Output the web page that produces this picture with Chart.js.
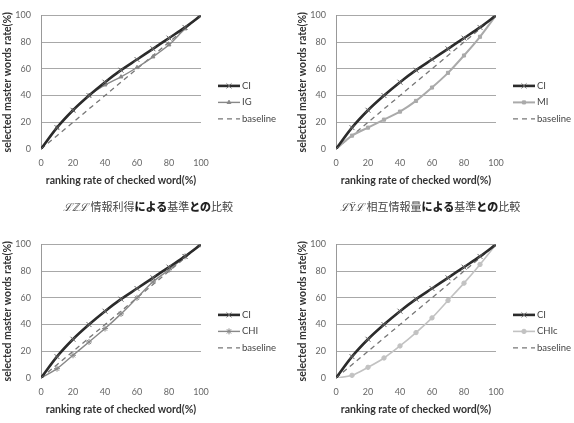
<!DOCTYPE html>
<html>
<head>
<meta charset="utf-8">
<script src="https://cdn.jsdelivr.net/npm/chart.js@4/dist/chart.umd.min.js"></script>
<style>
html,body{margin:0;padding:0;background:#fff;width:574px;height:423px;overflow:hidden}
.panel{position:absolute}
.cap{position:absolute;font-family:"Noto Sans CJK JP";font-size:11px;color:#444;white-space:nowrap;line-height:14px}
.cap b{font-weight:900;color:#222}
</style>
</head>
<body>
<div class="panel" style="left:0;top:0"><canvas id="c1" width="287" height="200"></canvas></div>
<div class="panel" style="left:295px;top:0"><canvas id="c2" width="279" height="200"></canvas></div>
<div class="panel" style="left:0;top:229px"><canvas id="c3" width="287" height="200"></canvas></div>
<div class="panel" style="left:295px;top:229px"><canvas id="c4" width="279" height="200"></canvas></div>
<div class="cap" style="left:63px;top:199px"><i>ℒℤℒ</i> 情報利得<b>による</b>基準<b>との</b>比較</div>
<div class="cap" style="left:340px;top:199px"><i>ℒŸℒ</i> 相互情報量<b>による</b>基準<b>との</b>比較</div>
<script>
let rankingRate = [0,10,20,30,40,50,60,70,80,90,100]
let ciRate = [0,16,29,40,50,59,67,75,83,91,100]
let igRate = [0,16,29,40,48,54,61,69,78,90,100]
let miRate = [0,10,16,22,28,36,46,57,70,84,100]
let chiRate = [0,7,17,27,37,48,60,72,81,91,100]
let chicRate = [0,2,8,15,24,34,45,58,71,85,100]
let baselineRate = [0,10,20,30,40,50,60,70,80,90,100]
let axisTicks = [0,20,40,60,80,100]

function pts(values){
return rankingRate.map((x,i)=>({x:x,y:values[i]}))
}

function ciSet(){
return {label:"CI",data:pts(ciRate),borderColor:"#2b2b2b",borderWidth:2.6,tension:0.3,
pointStyle:"crossRot",pointRadius:3.5,pointBorderColor:"#666",pointBorderWidth:1,pointBackgroundColor:"#666"}
}
function baseSet(){
return {label:"baseline",data:pts(baselineRate),borderColor:"#777",borderWidth:1.3,borderDash:[5,4],
pointRadius:0,tension:0}
}

let legendPlugin = {
id:"sideLegend",
afterDraw(chart){
let ctx = chart.ctx
let a = chart.chartArea
let x0 = a.right + 17
chart.data.datasets.forEach((ds,i)=>{
let y = a.top + 70.5 + i*16.5
ctx.save()
ctx.strokeStyle = ds.borderColor
ctx.lineWidth = ds.borderWidth
ctx.setLineDash(ds.borderDash || [])
ctx.beginPath()
ctx.moveTo(x0,y)
ctx.lineTo(x0+22,y)
ctx.stroke()
ctx.setLineDash([])
if(ds.pointRadius > 0 && Chart.helpers && Chart.helpers.drawPoint){
ctx.strokeStyle = ds.pointBorderColor
ctx.fillStyle = ds.pointBackgroundColor
ctx.lineWidth = ds.pointBorderWidth
Chart.helpers.drawPoint(ctx,{pointStyle:ds.pointStyle,rotation:0,radius:ds.pointRadius,borderWidth:ds.pointBorderWidth},x0+11,y)
}
ctx.fillStyle = "#444"
ctx.font = "9.5px Lato"
ctx.textBaseline = "middle"
ctx.fillText(ds.label,x0+24,y)
ctx.restore()
})
}
}

function makeChart(id,second,rightPad){
new Chart(document.getElementById(id),{
type:"scatter",
data:{datasets:[ciSet(),second,baseSet()]},
options:{
responsive:false,
animation:false,
showLine:true,
layout:{padding:{left:0,top:12,right:rightPad,bottom:10}},
plugins:{legend:{display:false},tooltip:{enabled:false}},
scales:{
x:{type:"linear",min:0,max:100,
afterBuildTicks(s){s.ticks = axisTicks.map(v=>({value:v}))},
afterFit(s){s.height = 41},
grid:{display:false,drawTicks:false},
border:{display:false},
ticks:{padding:9,color:"#666",font:{family:"Lato",size:9}},
title:{display:true,text:"ranking rate of checked word(%)",color:"#333",padding:{top:2,bottom:3},
font:{family:"Lato",size:10.5,weight:"bold",lineHeight:1.2}}
},
y:{type:"linear",min:0,max:100,
afterBuildTicks(s){s.ticks = axisTicks.map(v=>({value:v}))},
afterFit(s){s.width = 41},
grid:{drawTicks:false,color:(c)=>c.tick && c.tick.value === 0 ? "rgba(0,0,0,0)" : "#a8a8a8"},
border:{display:true,color:"#999"},
ticks:{padding:10,color:"#666",font:{family:"Lato",size:9}},
title:{display:true,text:"selected master words rate(%)",color:"#333",padding:{top:1,bottom:1},
font:{family:"Lato",size:10.5,weight:"bold",lineHeight:1.2}}
}
}
},
plugins:[legendPlugin]
})
}

makeChart("c1",{label:"IG",data:pts(igRate),borderColor:"#888",borderWidth:1.4,tension:0.3,
pointStyle:"triangle",pointRadius:2.2,pointBorderColor:"#888",pointBackgroundColor:"#888",pointBorderWidth:1},86)
makeChart("c2",{label:"MI",data:pts(miRate),borderColor:"#aaa",borderWidth:2,tension:0.3,
pointStyle:"rect",pointRadius:2.2,pointBorderColor:"#aaa",pointBackgroundColor:"#aaa",pointBorderWidth:1},78)
makeChart("c3",{label:"CHI",data:pts(chiRate),borderColor:"#888",borderWidth:1.4,tension:0.3,
pointStyle:"star",pointRadius:3,pointBorderColor:"#888",pointBackgroundColor:"#888",pointBorderWidth:1},86)
makeChart("c4",{label:"CHIc",data:pts(chicRate),borderColor:"#c2c2c2",borderWidth:1.6,tension:0.3,
pointStyle:"circle",pointRadius:2.2,pointBorderColor:"#c2c2c2",pointBackgroundColor:"#c2c2c2",pointBorderWidth:1},78)
</script>
</body>
</html>
